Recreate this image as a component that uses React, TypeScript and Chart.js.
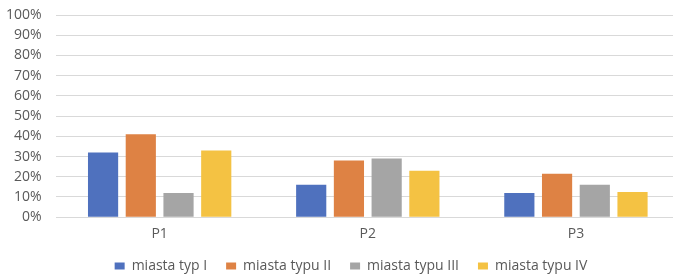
import React, { useEffect, useRef } from "react";
import { Chart, registerables } from "chart.js";

Chart.register(...registerables);

const categories = ["P1", "P2", "P3"];
const seriesNames = ["miasta typ I", "miasta typu II", "miasta typu III", "miasta typu IV"];
const typI = [32, 16, 12];
const typII = [41, 28, 21.5];
const typIII = [12, 29, 16];
const typIV = [33, 23, 12.5];
const colors = ["#4F71BE", "#DE8244", "#A5A5A5", "#F4C243"];

const LEGEND_TRIM = 19;
const LEGEND_SHIFT = -10;
const LEGEND_SHIFT_X = 9;

const legendTweak = {
  id: "legendTweak",
  beforeInit(chart: any) {
    const lg = chart.legend;
    if (!lg) return;
    const orig = lg.fit;
    lg.fit = function () {
      orig.call(this);
      this.height = Math.max(0, this.height - LEGEND_TRIM);
    };
  },
  afterLayout(chart: any) {
    const lg = chart.legend;
    if (!lg) return;
    lg.top += LEGEND_SHIFT;
    lg.left += LEGEND_SHIFT_X;
    lg.right += LEGEND_SHIFT_X;
  },
};

export default function App() {
  const ref = useRef<HTMLCanvasElement | null>(null);
  useEffect(() => {
    document.body.style.margin = "0";
    document.body.style.overflow = "hidden";
    const values = [typI, typII, typIII, typIV];
    const font = { family: "Open Sans", size: 14 };
    const chart = new Chart(ref.current!, {
      type: "bar",
      data: {
        labels: categories,
        datasets: seriesNames.map((n, i) => ({
          label: n,
          data: values[i],
          backgroundColor: colors[i],
          categoryPercentage: 0.725,
          barPercentage: 0.8,
        })),
      },
      options: {
        responsive: false,
        animation: false,
        devicePixelRatio: 1,
        layout: { padding: { top: 15, left: 4, right: 22, bottom: 0 } },
        plugins: {
          title: { display: false },
          tooltip: { enabled: false },
          legend: {
            position: "bottom",
            labels: {
              boxWidth: 10,
              boxHeight: 7,
              padding: 19,
              color: "#595959",
              font,
            },
          },
        },
        scales: {
          x: {
            grid: { display: false, drawTicks: false },
            border: { display: false },
            ticks: { color: "#595959", font, padding: 8 },
          },
          y: {
            min: 0,
            max: 100,
            ticks: {
              stepSize: 10,
              autoSkip: false,
              color: "#595959",
              font,
              padding: 2,
              callback: (v: any) => v + "%",
            },
            grid: { color: "#D9D9D9", drawTicks: true, tickLength: 12, tickColor: "rgba(0,0,0,0)" },
            border: { display: false },
          },
        },
      },
      plugins: [legendTweak],
    });
    return () => chart.destroy();
  }, []);
  return (
    <div style={{ position: "fixed", left: 0, top: 0, width: 673, height: 274, overflow: "hidden", background: "#fff" }}>
      <canvas ref={ref} width={702} height={274} style={{ display: "block" }} />
    </div>
  );
}
